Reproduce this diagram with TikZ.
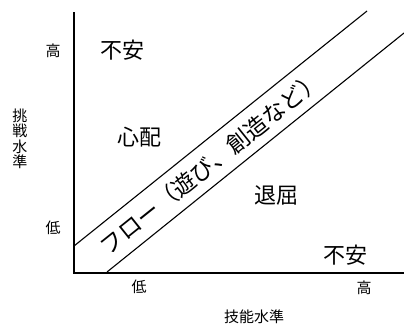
\documentclass[tikz,border=0pt]{standalone}
\usepackage{fontspec}
\newfontfamily\jp{Noto Sans CJK JP}[Scale=1]
\newfontfamily\jplight{Noto Sans CJK JP Light}[Scale=1]
\begin{document}
\begin{tikzpicture}[x=1pt,y=-1pt,
  axis/.style={line width=1.8pt},
  diag/.style={line width=1.1pt},
  big/.style={font=\jp\fontsize{22}{22}\selectfont, inner sep=0pt},
  small/.style={font=\jp\fontsize{15}{15}\selectfont, inner sep=0pt},
  flowtxt/.style={font=\jp\fontsize{23}{23}\selectfont, inner sep=0pt}]
\useasboundingbox (0,0) rectangle (404,325);
\coordinate (top) at (74,12);
\coordinate (origin) at (74,273);
\coordinate (right) at (404,273);
\coordinate (ua) at (74,246);
\coordinate (ub) at (367,11);
\coordinate (la) at (107,272);
\coordinate (lb) at (404,33);
\draw[axis] (top) -- (origin) -- (right);
\draw[diag] (ua) -- (ub);
\draw[diag] (la) -- (lb);
\node[small] (yhigh) at (53,51) {高};
\node[small] (ylow) at (53,228) {低};
\node[small] (xlow) at (139,287) {低};
\node[small] (xhigh) at (364,288) {高};
\node[small] (xlabel) at (254,317) {技能水準};
\node[small, align=center, font=\jp\fontsize{15}{15.5}\selectfont] (ylabel) at (20,139) {挑\\戦\\水\\準};
\node[big] (anx1) at (122,50) {不安};
\node[big] (worry) at (139,137) {心配};
\node[big] (bored) at (276,195) {退屈};
\node[big] (anx2) at (345,255) {不安};
\node[flowtxt, rotate=38.7] (flow) at (211,163) {フロー（遊び、創造など）};
\end{tikzpicture}
\end{document}
